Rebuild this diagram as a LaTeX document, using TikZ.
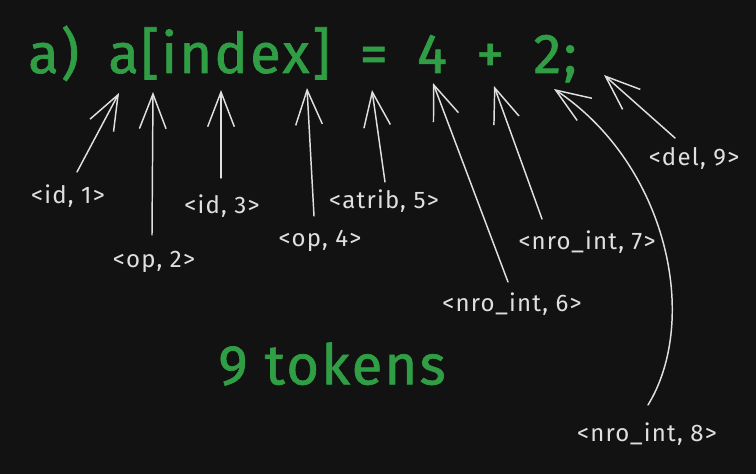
\documentclass[tikz,border=0pt]{standalone}
\usepackage{fontspec}
\setmainfont{Fira Sans}
\newfontfamily\lexfont[LetterSpace=4, FakeBold=1.2]{Fira Sans}
\newfontfamily\tokfont[LetterSpace=5]{Fira Sans}
\usetikzlibrary{arrows.meta}
\definecolor{canvas}{HTML}{121212}
\definecolor{tokgreen}{HTML}{2F9E44}
\definecolor{chalk}{HTML}{E0E0E0}

\begin{document}
\begin{tikzpicture}[x=0.75pt, y=-0.75pt,
    lexeme/.style={font=\lexfont\fontsize{42}{50}\selectfont, text=tokgreen, inner sep=0pt},
    token/.style={font=\tokfont\fontsize{18}{21}\selectfont, text=chalk, inner sep=0pt},
    arrow/.style={-{Straight Barb[length=26pt, width=20pt]}, line width=1.1pt, chalk, line cap=round, line join=round}]

    \fill [canvas] (0,0) rectangle (756,474);
    \useasboundingbox (0,0) rectangle (756,474);

    % source line and count
    \node (code) [lexeme, anchor=base west] at (28,73) {\spaceskip=22pt a) a[index] = 4 + 2;};
    \node (count) [lexeme] at (332,364) {9 tokens};

    % tips under the lexemes
    \coordinate (h1) at (119,93);
    \coordinate (h2) at (153,92);
    \coordinate (h3) at (221,90);
    \coordinate (h4) at (307,88);
    \coordinate (h5) at (372,90);
    \coordinate (h6) at (433,83);
    \coordinate (h7) at (494,86);
    \coordinate (h8) at (554,89);
    \coordinate (h9) at (604,75);

    % tokens
    \node (id1) [token] at (68,196) {<id, 1>};
    \node (op2) [token] at (154,262) {<op, 2>};
    \node (id3) [token] at (222,206) {<id, 3>};
    \node (op4) [token] at (320,241) {<op, 4>};
    \node (atrib5) [token] at (384,201) {<atrib, 5>};
    \node (int6) [token] at (512,304) {<nro\_int, 6>};
    \node (int7) [token] at (587,242) {<nro\_int, 7>};
    \node (int8) [token] at (647,434) {<nro\_int, 8>};
    \node (del9) [token] at (694,158) {<del, 9>};

    \draw [arrow] ([shift={(9,-24)}]id1.center) -- (h1);
    \draw [arrow] ([shift={(-2,-27)}]op2.center) -- (h2);
    \draw [arrow] ([shift={(-1,-28)}]id3.center) -- (h3);
    \draw [arrow] ([shift={(-6,-25)}]op4.center) -- (h4);
    \draw [arrow] ([shift={(1,-19)}]atrib5.center) -- (h5);
    \draw [arrow] ([shift={(-4,-22)}]int6.center) -- (h6);
    \draw [arrow] ([shift={(-45,-23)}]int7.center) -- (h7);
    \draw [arrow] ([shift={(1,-29)}]int8.center) .. controls (700,320) and (668,165) .. (h8);
    \draw [arrow] ([shift={(-19,-20)}]del9.center) -- (h9);
\end{tikzpicture}
\end{document}
